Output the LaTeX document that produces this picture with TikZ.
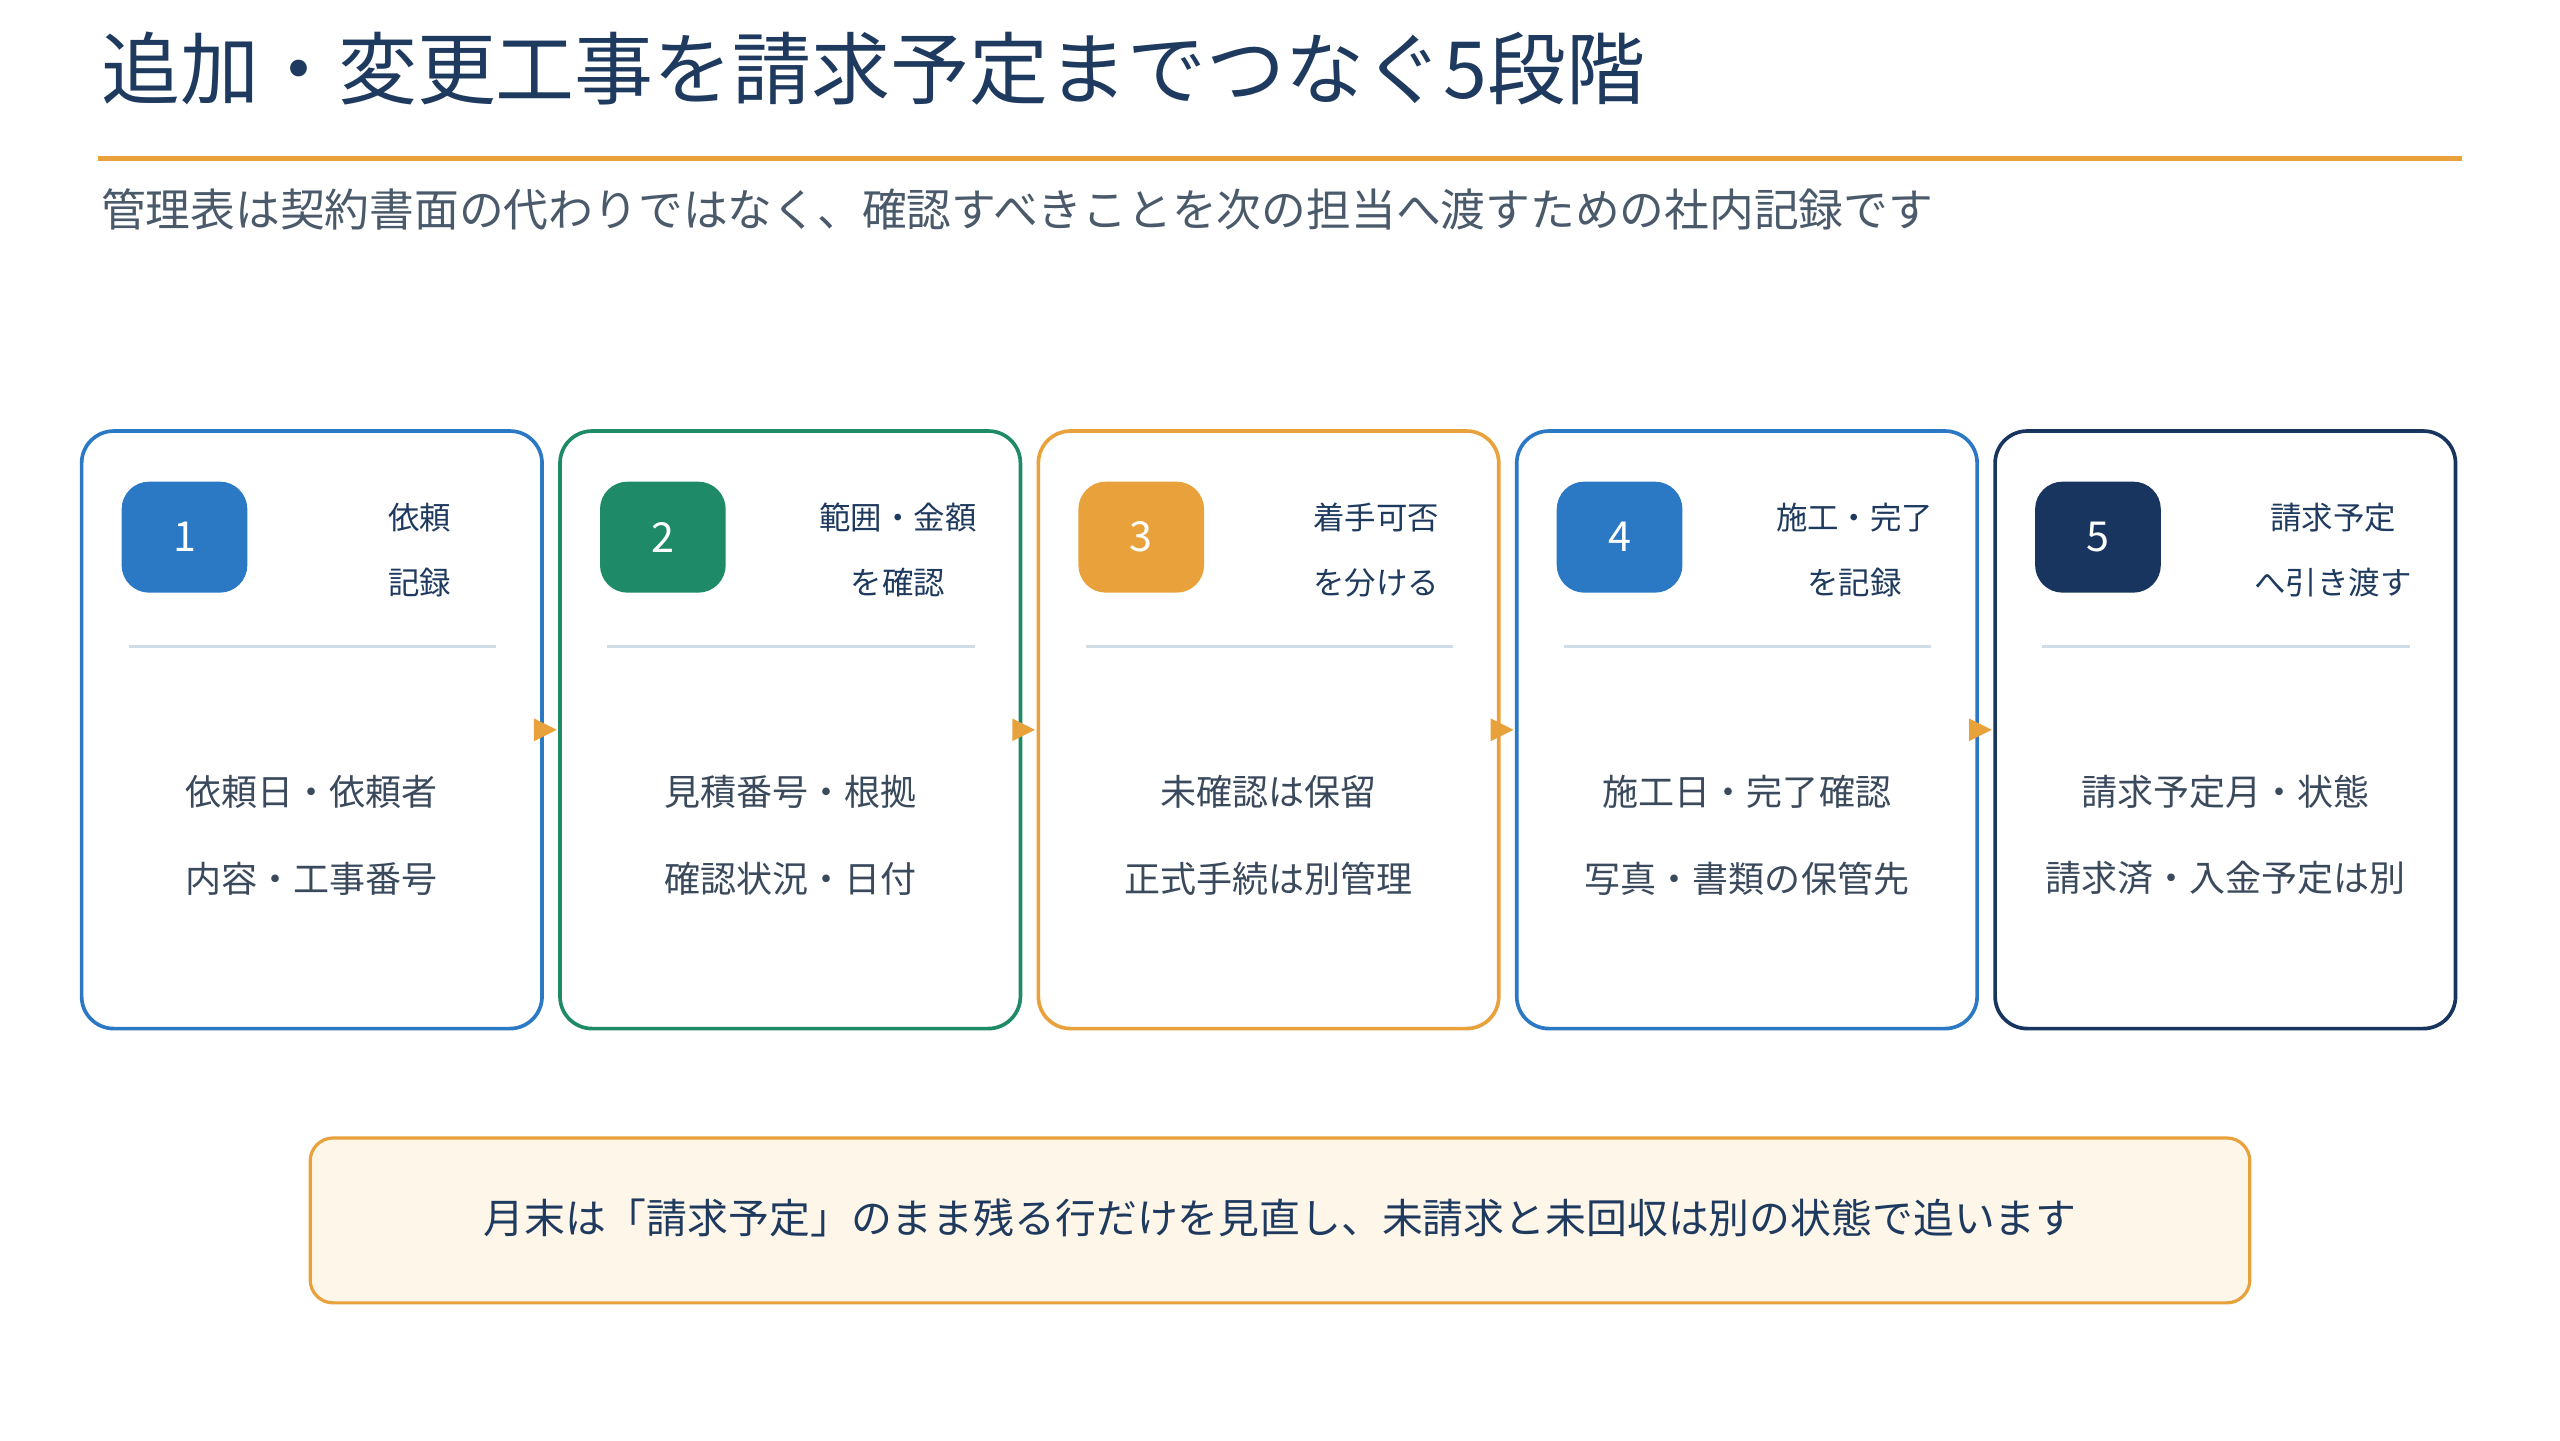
\documentclass[tikz,border=0pt]{standalone}
\usepackage{fontspec}
\setmainfont{Noto Sans CJK JP}
\begin{document}
\definecolor{cblue}{HTML}{2B78C5}
\definecolor{cgreen}{HTML}{1E8A67}
\definecolor{corange}{HTML}{E9A23B}
\definecolor{cnavy}{HTML}{17355E}
\definecolor{ctitle}{HTML}{1F3A5F}
\definecolor{csub}{HTML}{4A5A6A}
\definecolor{ctext}{HTML}{3A4A5C}
\begin{tikzpicture}[x=0.25mm,y=-0.25mm,
  card/.style={draw=#1,line width=1.6pt,rounded corners=14pt,fill=white},
  badge/.style={fill=#1,rounded corners=12pt,minimum width=19.25mm,minimum height=17mm,text=white,font=\fontsize{18}{20}\selectfont},
  head/.style={font=\fontsize{13.7}{16}\selectfont,text=ctitle},
  body/.style={font=\fontsize{15.7}{18}\selectfont,text=ctext},
  arr/.style={fill=corange,draw=none}]
\useasboundingbox (0,0) rectangle (1568,882);
\node[anchor=west,font=\fontsize{34.4}{40}\selectfont,text=ctitle] (title) at (57,42) {追加・変更工事を請求予定までつなぐ5段階};
\draw[corange,line width=2.5pt] (60,97) -- (1508,97);
\node[anchor=west,font=\fontsize{19.5}{22}\selectfont,text=csub] (sub) at (57,128) {管理表は契約書面の代わりではなく、確認すべきことを次の担当へ渡すための社内記録です};
\foreach \i/\c/\ha/\hb/\ba/\bb in {0/cblue/依頼/記録/依頼日・依頼者/内容・工事番号,
 1/cgreen/範囲・金額/を確認/見積番号・根拠/確認状況・日付,
 2/corange/着手可否/を分ける/未確認は保留/正式手続は別管理,
 3/cblue/施工・完了/を記録/施工日・完了確認/写真・書類の保管先,
 4/cnavy/請求予定/へ引き渡す/請求予定月・状態/請求済・入金予定は別}{
  \pgfmathsetmacro{\x}{50+293*\i}
  \draw[card=\c] (\x,264) rectangle ++(282,366);
  \pgfmathtruncatemacro{\n}{\i+1}
  \node[badge=\c] (b\i) at (\x+63,329) {\n};
  \node[head] (ha\i) at (\x+207,317) {\ha};
  \node[head] (hb\i) at (\x+207,357) {\hb};
  \draw[color={rgb,255:red,208;green,220;blue,230},line width=1pt] (\x+29,396) -- (\x+254,396);
  \node[body] (ba\i) at (\x+141,485) {\ba};
  \node[body] (bb\i) at (\x+141,538) {\bb};
}
\foreach \i in {0,...,3}{
  \pgfmathsetmacro{\x}{332+293*\i}
  \fill[arr] (\x-5,440) -- (\x+9,447) -- (\x-5,454) -- cycle;
}
\draw[corange,line width=1.4pt,fill={rgb,255:red,254;green,246;blue,232},rounded corners=10pt] (190,697) rectangle (1378,798);
\node[font=\fontsize{17.8}{20}\selectfont,text=ctitle] (note) at (784,746) {月末は「請求予定」のまま残る行だけを見直し、未請求と未回収は別の状態で追います};
\end{tikzpicture}
\end{document}
